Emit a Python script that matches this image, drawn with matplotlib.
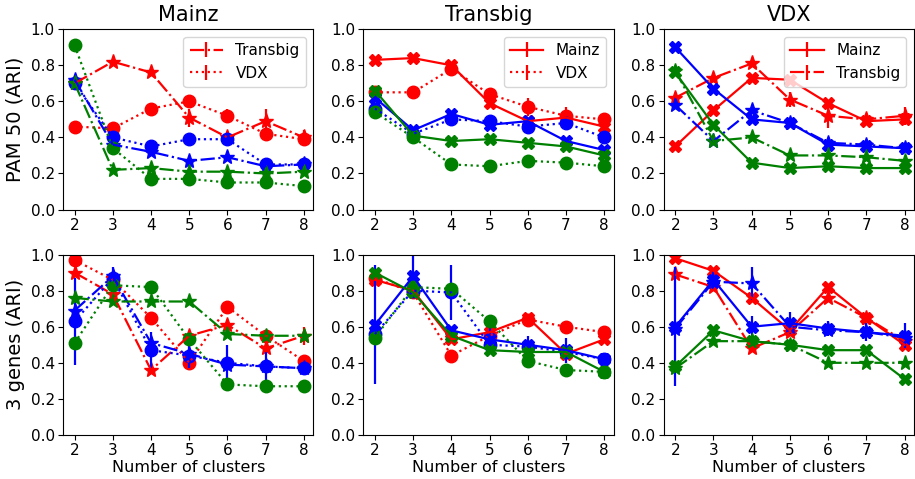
import matplotlib
matplotlib.use("Agg")
import matplotlib.pyplot as plt

clusters = [2, 3, 4, 5, 6, 7, 8]
yticks = [0.0, 0.2, 0.4, 0.6, 0.8, 1.0]

# PAM 50 - Mainz panel (tb = Transbig, vdx = VDX)
pam_mainz_tb_red = [0.70, 0.82, 0.76, 0.51, 0.40, 0.49, 0.40]
pam_mainz_tb_red_err = [0, 0, 0, 0.05, 0.02, 0.07, 0.04]
pam_mainz_vdx_red = [0.46, 0.45, 0.56, 0.60, 0.52, 0.42, 0.39]
pam_mainz_vdx_red_err = [0, 0, 0, 0, 0.04, 0, 0.02]
pam_mainz_tb_blue = [0.72, 0.36, 0.32, 0.27, 0.29, 0.24, 0.25]
pam_mainz_vdx_blue = [0.70, 0.40, 0.35, 0.39, 0.39, 0.25, 0.25]
pam_mainz_vdx_blue_err = [0, 0, 0, 0, 0.03, 0, 0]
pam_mainz_tb_green = [0.70, 0.22, 0.23, 0.21, 0.21, 0.20, 0.21]
pam_mainz_vdx_green = [0.91, 0.34, 0.17, 0.17, 0.15, 0.15, 0.13]

# PAM 50 - Transbig panel (mz = Mainz)
pam_tb_mz_red = [0.83, 0.84, 0.80, 0.59, 0.49, 0.51, 0.46]
pam_tb_mz_red_err = [0, 0, 0, 0, 0, 0.06, 0.04]
pam_tb_vdx_red = [0.65, 0.65, 0.78, 0.64, 0.57, 0.52, 0.50]
pam_tb_vdx_red_err = [0, 0, 0, 0, 0.05, 0, 0]
pam_tb_mz_blue = [0.62, 0.44, 0.53, 0.47, 0.49, 0.38, 0.33]
pam_tb_vdx_blue = [0.56, 0.42, 0.50, 0.49, 0.46, 0.48, 0.40]
pam_tb_mz_green = [0.66, 0.41, 0.38, 0.39, 0.37, 0.35, 0.30]
pam_tb_vdx_green = [0.54, 0.40, 0.25, 0.24, 0.27, 0.26, 0.24]

# PAM 50 - VDX panel
pam_vdx_mz_red = [0.35, 0.55, 0.73, 0.72, 0.59, 0.49, 0.50]
pam_vdx_tb_red = [0.62, 0.73, 0.81, 0.61, 0.52, 0.50, 0.52]
pam_vdx_tb_red_err = [0, 0, 0, 0.04, 0.07, 0.03, 0.05]
pam_vdx_mz_blue = [0.90, 0.67, 0.50, 0.48, 0.36, 0.35, 0.34]
pam_vdx_tb_blue = [0.58, 0.38, 0.55, 0.48, 0.37, 0.36, 0.34]
pam_vdx_mz_green = [0.76, 0.47, 0.26, 0.23, 0.24, 0.23, 0.23]
pam_vdx_tb_green = [0.77, 0.38, 0.40, 0.30, 0.30, 0.29, 0.27]

# 3 genes - Mainz panel
gen_mainz_tb_red = [0.90, 0.78, 0.36, 0.55, 0.61, 0.48, 0.55]
gen_mainz_tb_red_err = [0, 0, 0, 0, 0, 0, 0.05]
gen_mainz_vdx_red = [0.97, 0.86, 0.65, 0.40, 0.71, 0.55, 0.41]
gen_mainz_vdx_red_err = [0, 0, 0, 0.03, 0, 0, 0]
gen_mainz_tb_blue = [0.69, 0.88, 0.51, 0.45, 0.39, 0.38, 0.37]
gen_mainz_tb_blue_err = [0, 0.05, 0, 0, 0, 0, 0]
gen_mainz_vdx_blue = [0.63, 0.87, 0.47, 0.44, 0.40, 0.38, 0.37]
gen_mainz_vdx_blue_err = [0.24, 0.03, 0.10, 0.07, 0.10, 0.08, 0]
gen_mainz_tb_green = [0.76, 0.74, 0.74, 0.74, 0.56, 0.55, 0.55]
gen_mainz_vdx_green = [0.51, 0.83, 0.82, 0.53, 0.28, 0.27, 0.27]

# 3 genes - Transbig panel
gen_tb_mz_red = [0.86, 0.80, 0.53, 0.57, 0.65, 0.45, 0.53]
gen_tb_vdx_red = [0.87, 0.79, 0.44, 0.55, 0.64, 0.60, 0.57]
gen_tb_mz_blue = [0.61, 0.88, 0.58, 0.53, 0.50, 0.47, 0.42]
gen_tb_mz_blue_err = [0.33, 0.11, 0, 0.07, 0.05, 0.07, 0]
gen_tb_vdx_blue = [0.56, 0.80, 0.79, 0.50, 0.49, 0.46, 0.42]
gen_tb_vdx_blue_err = [0, 0, 0.15, 0, 0, 0, 0]
gen_tb_mz_green = [0.90, 0.79, 0.55, 0.47, 0.46, 0.46, 0.35]
gen_tb_vdx_green = [0.54, 0.82, 0.81, 0.63, 0.41, 0.36, 0.35]

# 3 genes - VDX panel
gen_vdx_mz_red = [0.98, 0.91, 0.76, 0.58, 0.82, 0.65, 0.50]
gen_vdx_tb_red = [0.89, 0.82, 0.48, 0.57, 0.76, 0.65, 0.52]
gen_vdx_mz_blue = [0.60, 0.86, 0.60, 0.62, 0.59, 0.57, 0.55]
gen_vdx_mz_blue_err = [0.33, 0.05, 0.06, 0.06, 0.04, 0.05, 0.07]
gen_vdx_tb_blue = [0.59, 0.85, 0.84, 0.60, 0.58, 0.57, 0.54]
gen_vdx_tb_blue_err = [0, 0, 0.09, 0, 0, 0, 0]
gen_vdx_mz_green = [0.38, 0.58, 0.52, 0.50, 0.47, 0.47, 0.31]
gen_vdx_tb_green = [0.37, 0.52, 0.52, 0.50, 0.40, 0.40, 0.40]

zero = [0] * 7

# style per comparison dataset: (linestyle, marker, markersize)
styles = {"Mainz": ("-", "X", 9), "Transbig": ("-.", "*", 11), "VDX": (":", "o", 9)}

# panel -> list of (dataset, color, values, errors)
panels = {
    (0, 0): [("Transbig", "red", pam_mainz_tb_red, pam_mainz_tb_red_err),
             ("VDX", "red", pam_mainz_vdx_red, pam_mainz_vdx_red_err),
             ("Transbig", "blue", pam_mainz_tb_blue, zero),
             ("VDX", "blue", pam_mainz_vdx_blue, pam_mainz_vdx_blue_err),
             ("Transbig", "green", pam_mainz_tb_green, zero),
             ("VDX", "green", pam_mainz_vdx_green, zero)],
    (0, 1): [("Mainz", "red", pam_tb_mz_red, pam_tb_mz_red_err),
             ("VDX", "red", pam_tb_vdx_red, pam_tb_vdx_red_err),
             ("Mainz", "blue", pam_tb_mz_blue, zero),
             ("VDX", "blue", pam_tb_vdx_blue, zero),
             ("Mainz", "green", pam_tb_mz_green, zero),
             ("VDX", "green", pam_tb_vdx_green, zero)],
    (0, 2): [("Mainz", "red", pam_vdx_mz_red, zero),
             ("Transbig", "red", pam_vdx_tb_red, pam_vdx_tb_red_err),
             ("Mainz", "blue", pam_vdx_mz_blue, zero),
             ("Transbig", "blue", pam_vdx_tb_blue, zero),
             ("Mainz", "green", pam_vdx_mz_green, zero),
             ("Transbig", "green", pam_vdx_tb_green, zero)],
    (1, 0): [("Transbig", "red", gen_mainz_tb_red, gen_mainz_tb_red_err),
             ("VDX", "red", gen_mainz_vdx_red, gen_mainz_vdx_red_err),
             ("Transbig", "blue", gen_mainz_tb_blue, gen_mainz_tb_blue_err),
             ("VDX", "blue", gen_mainz_vdx_blue, gen_mainz_vdx_blue_err),
             ("Transbig", "green", gen_mainz_tb_green, zero),
             ("VDX", "green", gen_mainz_vdx_green, zero)],
    (1, 1): [("Mainz", "red", gen_tb_mz_red, zero),
             ("VDX", "red", gen_tb_vdx_red, zero),
             ("Mainz", "blue", gen_tb_mz_blue, gen_tb_mz_blue_err),
             ("VDX", "blue", gen_tb_vdx_blue, gen_tb_vdx_blue_err),
             ("Mainz", "green", gen_tb_mz_green, zero),
             ("VDX", "green", gen_tb_vdx_green, zero)],
    (1, 2): [("Mainz", "red", gen_vdx_mz_red, zero),
             ("Transbig", "red", gen_vdx_tb_red, zero),
             ("Mainz", "blue", gen_vdx_mz_blue, gen_vdx_mz_blue_err),
             ("Transbig", "blue", gen_vdx_tb_blue, gen_vdx_tb_blue_err),
             ("Mainz", "green", gen_vdx_mz_green, zero),
             ("Transbig", "green", gen_vdx_tb_green, zero)],
}
titles = ["Mainz", "Transbig", "VDX"]
row_labels = ["PAM 50 (ARI)", "3 genes (ARI)"]

fig, axes = plt.subplots(2, 3, figsize=(9.15, 4.79), dpi=100)
plt.subplots_adjust(left=0.069, right=0.999, top=0.939, bottom=0.092,
                    wspace=0.2, hspace=0.25)

for (r, c), series in panels.items():
    ax = axes[r, c]
    for name, color, vals, err in series:
        ls, mk, ms = styles[name]
        lab = name if (r == 0 and color == "red") else None
        ax.errorbar(clusters, vals, yerr=err, color=color, ls=ls, lw=1.6,
                    elinewidth=1.6, capsize=0, label=lab)
        ax.plot(clusters, vals, ls="none", marker=mk, ms=ms, color=color)
    ax.set_ylim(0, 1.0)
    ax.set_xlim(1.7, 8.25)
    ax.set_xticks(clusters)
    ax.set_yticks(yticks)
    ax.tick_params(labelsize=11, pad=2.5)
    if r == 0:
        ax.set_title(titles[c], fontsize=15)
        ax.legend(loc="upper right", fontsize=11, handlelength=2.2)
    else:
        ax.set_xlabel("Number of clusters", fontsize=11.5, labelpad=1)
    if c == 0:
        ax.set_ylabel(row_labels[r], fontsize=14)

plt.savefig("out.png", dpi=100)
